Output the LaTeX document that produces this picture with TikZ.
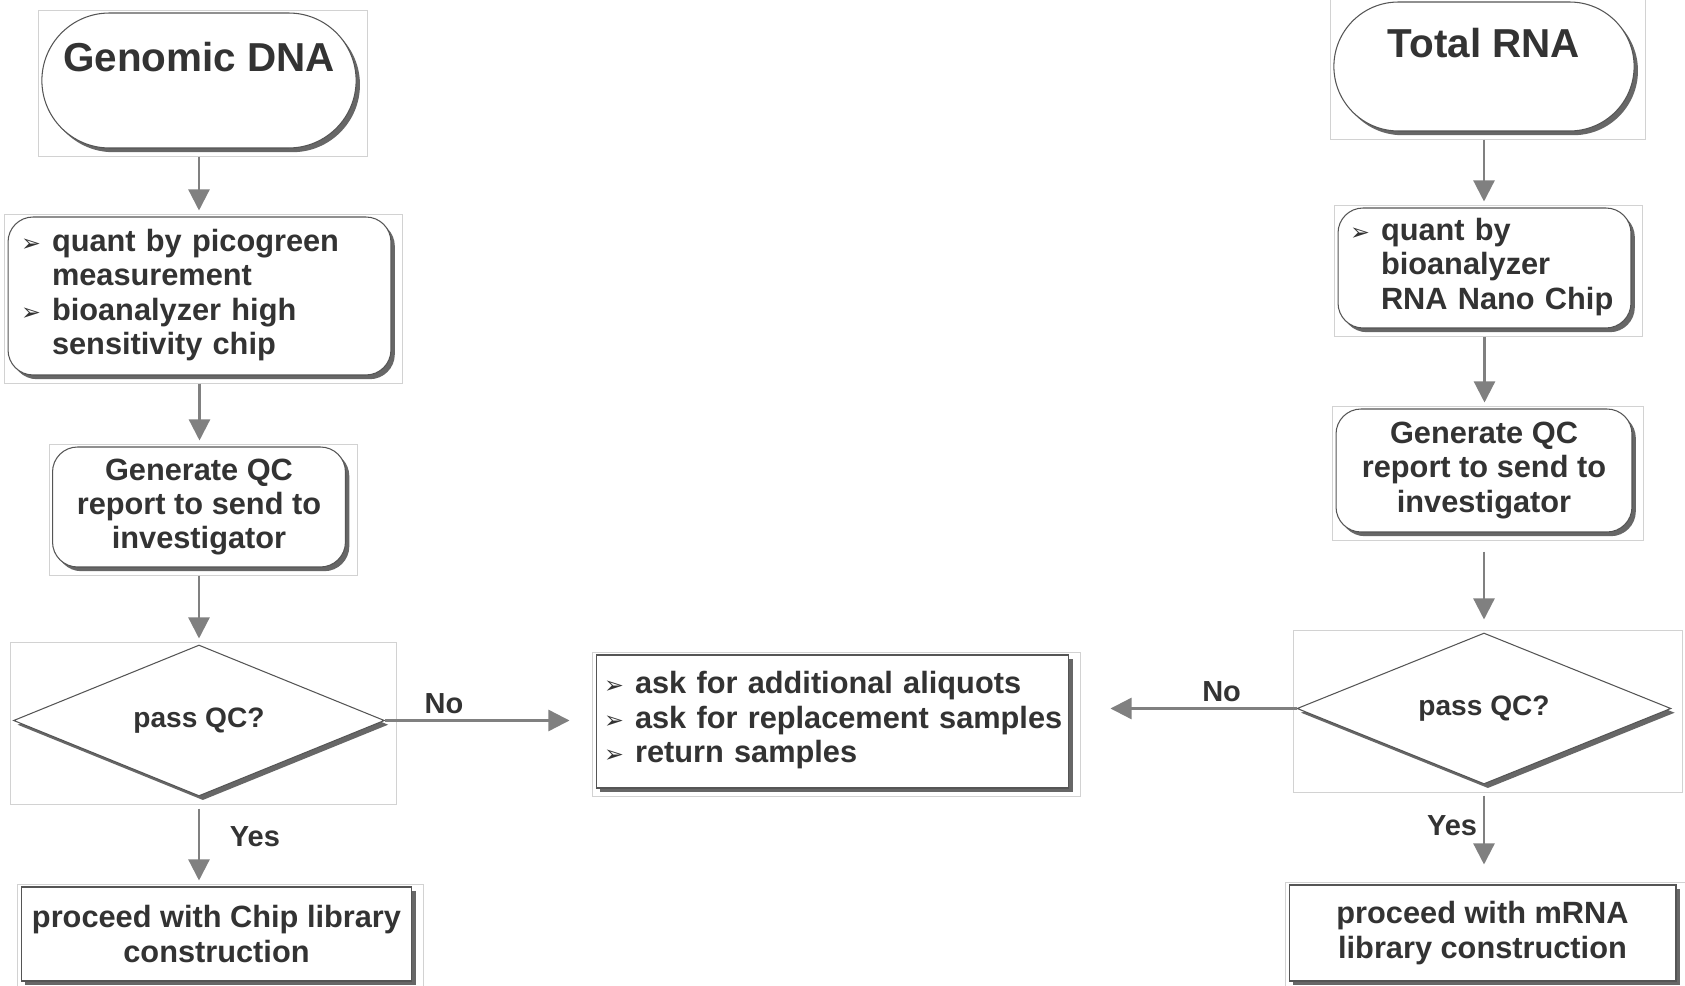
\documentclass[tikz,border=0pt]{standalone}
\usepackage{fontspec}
\setmainfont{Liberation Sans}
\newfontfamily\bulletfont{DejaVu Sans}
\usetikzlibrary{shapes.geometric,shapes.misc,arrows.meta,shadows,positioning,calc}
\definecolor{txtgray}{HTML}{333333}
\definecolor{linegray}{HTML}{808080}
\definecolor{edgegray}{HTML}{555555}
\definecolor{framegray}{HTML}{D2D2D2}
\newcommand{\bodyfont}{\fontsize{17.5}{19.6}\selectfont\bfseries}
\newcommand{\blt}{{\bulletfont\fontsize{13.5}{13.5}\selectfont ➢}}

\begin{document}
\begin{tikzpicture}[x=0.02cm, y=-0.02cm, font=\bfseries, text=txtgray]
% Define styles
\tikzstyle{base} = [draw=edgegray, line width=0.6pt, fill=white, drop shadow={shadow xshift=2.2pt, shadow yshift=-2.4pt, fill=black!85, opacity=0.7}]
\tikzstyle{terminal} = [base, rounded rectangle, font=\fontsize{23}{27}\selectfont\bfseries, align=center]
\tikzstyle{listbox} = [base, rectangle, font=\bodyfont, align=left]
\tikzstyle{process} = [base, rectangle, rounded corners=0.5cm, font=\bodyfont, align=center]
\tikzstyle{decision} = [base, diamond, aspect=2.5, font=\fontsize{16}{18}\selectfont\bfseries, inner sep=0pt]
\tikzstyle{outcome} = [base, rectangle, font=\bodyfont, align=center]
\tikzstyle{frame} = [draw=framegray, line width=0.5pt]
\tikzstyle{arrow} = [draw=linegray, line width=1.3pt, -{Triangle[width=12pt, length=12pt]}, shorten <=0.16cm, shorten >=0.12cm]
\tikzstyle{answer} = [font=\fontsize{16.5}{18}\selectfont\bfseries]

\useasboundingbox (0,0) rectangle (1685,986);

% Draw nodes
\node (dna) [terminal, minimum width=6.52cm, minimum height=2.7cm] at (199,80.5) {Genomic DNA\\\mbox{}};
\node (quantdna) [listbox, rounded corners=0.5cm, text width=7.14cm, inner xsep=0.26cm, minimum height=3.16cm] at (199.5,296) {\begin{tabular}{@{}p{0.62cm}@{}l@{}}
\blt & quant by picogreen\\
 & measurement\\
\blt & bioanalyzer high\\
 & sensitivity chip
\end{tabular}};
\node (qcdna) [process, minimum width=5.86cm, minimum height=2.4cm] at (199,507) {Generate QC\\report to send to\\investigator};
\node (passdna) [decision, minimum width=7.42cm, minimum height=3.02cm] at (199,720.5) {pass QC?};
\node (libdna) [outcome, minimum width=7.82cm, minimum height=1.88cm] at (216.5,934) {proceed with Chip library\\construction};

\node (rna) [terminal, minimum width=6.24cm, minimum height=2.58cm] at (1484,66.5) {Total RNA\\\mbox{}};
\node (quantrna) [listbox, rounded corners=0.5cm, text width=5.38cm, inner xsep=0.24cm, minimum height=2.4cm] at (1484.5,268) {\begin{tabular}{@{}p{0.62cm}@{}l@{}}
\blt & quant by\\
 & bioanalyzer\\
 & RNA Nano Chip
\end{tabular}};
\node (qcrna) [process, minimum width=5.92cm, minimum height=2.46cm] at (1484,470.5) {Generate QC\\report to send to\\investigator};
\node (passrna) [decision, minimum width=7.48cm, minimum height=3.02cm] at (1484,708.5) {pass QC?};
\node (librna) [outcome, minimum width=7.74cm, minimum height=1.92cm] at (1482.5,933) {proceed with mRNA\\library construction};

\node (retbox) [listbox, text width=9.14cm, inner xsep=0.16cm, minimum height=2.66cm] at (832.5,721.5) {\begin{tabular}{@{}p{0.62cm}@{}l@{}}
\blt & ask for additional aliquots\\
\blt & ask for replacement samples\\
\blt & return samples
\end{tabular}};

% Frames round the nodes
\foreach \n in {dna,quantdna,qcdna,passdna,libdna,rna,quantrna,qcrna,passrna,librna,retbox}
  \draw [frame] ($(\n.west |- \n.north)+(-3,-2)$) rectangle ($(\n.east |- \n.south)+(11,8)$);

% Draw arrows
\draw [arrow] (dna.south) -- (dna.south |- quantdna.north);
\draw [arrow] (quantdna.south) -- (quantdna.south |- qcdna.north);
\draw [arrow] (qcdna.south) -- (qcdna.south |- passdna.north);
\draw [arrow, shorten <=0.24cm] (passdna.south) -- (passdna.south |- libdna.north) node [answer, pos=0.45, right=0.48cm] {Yes};
\draw [arrow, shorten <=0pt, shorten >=0.52cm] (passdna.east) -- (passdna.east -| retbox.west) node [answer, pos=0.28, above=0cm] {No};

\draw [arrow] (rna.south) -- (rna.south |- quantrna.north);
\draw [arrow] (quantrna.south) -- (quantrna.south |- qcrna.north);
\draw [arrow, shorten <=0.38cm, shorten >=0.26cm] (qcrna.south) -- (qcrna.south |- passrna.north);
\draw [arrow, shorten <=0.22cm, shorten >=0.4cm] (passrna.south) -- (passrna.south |- librna.north) node [answer, pos=0.41, left=0cm] {Yes};
\draw [arrow, shorten <=0pt, shorten >=0.82cm] (passrna.west) -- (passrna.west -| retbox.east) node [answer, pos=0.33, above=0cm] {No};

\end{tikzpicture}
\end{document}
